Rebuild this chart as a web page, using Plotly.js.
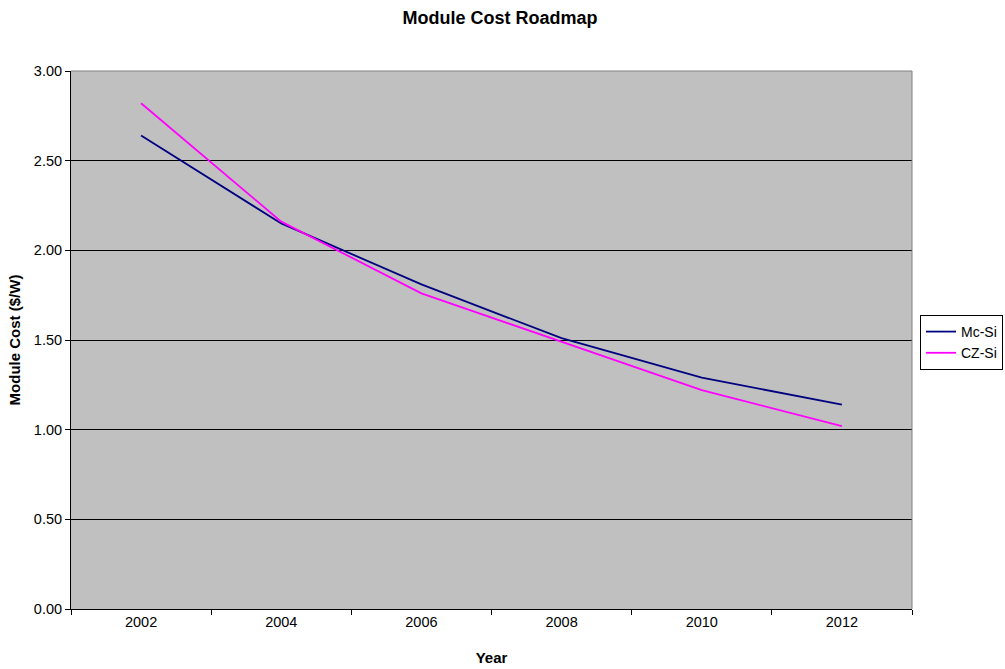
<!DOCTYPE html>
<html>
<head>
<meta charset="utf-8">
<script src="https://cdn.plot.ly/plotly-3.0.1.min.js"></script>
<style>
  html, body { margin: 0; padding: 0; background: #fff; }
  #chart { width: 1005px; height: 669px; }
</style>
</head>
<body>
<div id="chart"></div>
<script>
// Module cost roadmap, $/W per year
const years = ['2002', '2004', '2006', '2008', '2010', '2012'];
const mcSi = [2.64, 2.15, 1.81, 1.51, 1.29, 1.14];
const czSi = [2.82, 2.16, 1.76, 1.49, 1.22, 1.02];
const yTicks = [0, 0.5, 1, 1.5, 2, 2.5, 3];

const FONT = 'Liberation Sans, Arial, sans-serif';

const traces = [
  {
    x: years, y: mcSi, name: 'Mc-Si', type: 'scatter', mode: 'lines',
    line: { color: '#000080', width: 1.8 }
  },
  {
    x: years, y: czSi, name: 'CZ-Si', type: 'scatter', mode: 'lines',
    line: { color: '#FF00FF', width: 1.8 }
  }
];

const layout = {
  width: 1005, height: 669,
  margin: { l: 71, r: 93, t: 71, b: 60, autoexpand: false },
  paper_bgcolor: '#ffffff',
  plot_bgcolor: '#C0C0C0',
  font: { family: FONT, size: 14.5, color: '#000' },
  title: {
    text: '<b>Module Cost Roadmap</b>',
    font: { family: FONT, size: 18, color: '#000' },
    x: 0.4975, xanchor: 'center', y: 0.973, yanchor: 'middle'
  },
  xaxis: {
    type: 'category',
    range: [-0.5, years.length - 0.5],
    tickson: 'boundaries',
    ticks: 'outside', ticklen: 5, tickcolor: '#000', tickwidth: 1,
    showline: true, linecolor: '#000', linewidth: 1,
    showgrid: false, zeroline: false,
    tickfont: { family: FONT, size: 14.5 },
    title: { text: '<b>Year</b>', font: { family: FONT, size: 15 }, standoff: 23 },
    automargin: false,
    fixedrange: true
  },
  yaxis: {
    range: [0, 3],
    tickvals: yTicks,
    tickformat: '.2f',
    ticks: 'outside', ticklen: 5, tickcolor: '#000', tickwidth: 1,
    showline: true, linecolor: '#000', linewidth: 1,
    showgrid: true, gridcolor: '#000', gridwidth: 1,
    zeroline: false,
    tickfont: { family: FONT, size: 14.5 },
    title: { text: '<b>Module Cost ($/W)</b>', font: { family: FONT, size: 15 }, standoff: 9 },
    automargin: false,
    fixedrange: true
  },
  legend: {
    x: 1.0095, xanchor: 'left',
    y: 0.5465, yanchor: 'top',
    bgcolor: '#ffffff',
    bordercolor: '#000', borderwidth: 1,
    font: { family: FONT, size: 14 },
    tracegroupgap: 0,
    itemwidth: 30
  },
  shapes: [
    {
      type: 'line', xref: 'paper', yref: 'paper',
      x0: 0, x1: 1, y0: 1, y1: 1,
      line: { color: '#808080', width: 1 }, layer: 'above'
    },
    {
      type: 'line', xref: 'paper', yref: 'paper',
      x0: 1, x1: 1, y0: 0, y1: 1,
      line: { color: '#808080', width: 1 }, layer: 'above'
    }
  ],
  showlegend: true
};

Plotly.newPlot('chart', traces, layout, { displayModeBar: false, staticPlot: true });
</script>
</body>
</html>
